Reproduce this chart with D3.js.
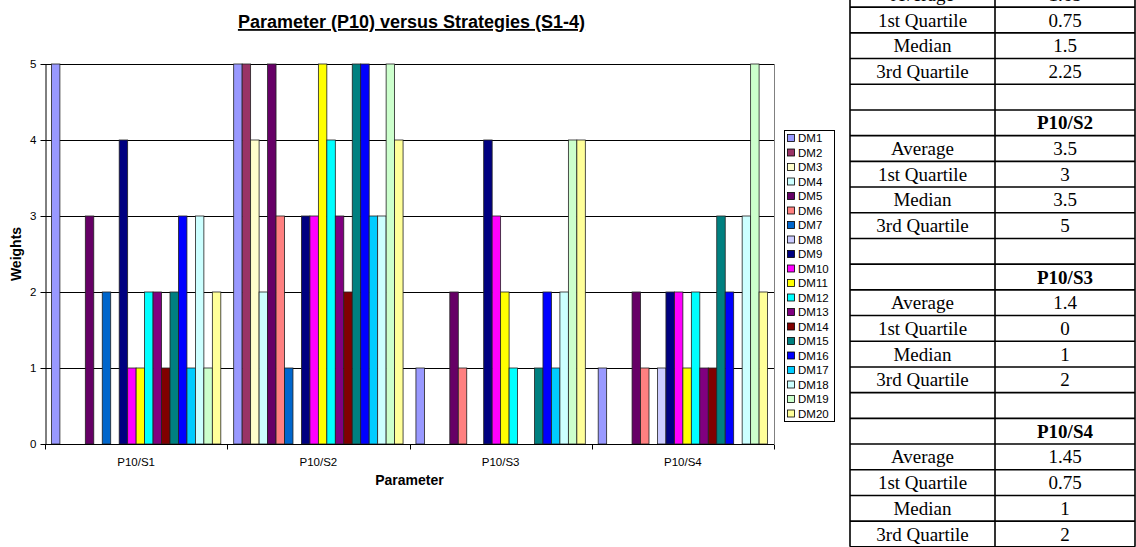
<!DOCTYPE html>
<html>
<head>
<meta charset="utf-8">
<script src="https://cdn.jsdelivr.net/npm/d3@7"></script>
<style>
  html, body { margin: 0; padding: 0; background: #fff; }
  svg { display: block; }
</style>
</head>
<body>
<svg id="chart" width="1136" height="547"></svg>
<script>
// ---------- data ----------
const categories = ["P10/S1", "P10/S2", "P10/S3", "P10/S4"];
const seriesNames = ["DM1","DM2","DM3","DM4","DM5","DM6","DM7","DM8","DM9","DM10",
                     "DM11","DM12","DM13","DM14","DM15","DM16","DM17","DM18","DM19","DM20"];
const weightsS1 = [5,0,0,0,3,0,2,0,4,1,1,2,2,1,2,3,1,3,1,2];
const weightsS2 = [5,5,4,2,5,3,1,0,3,3,5,4,3,2,5,5,3,3,5,4];
const weightsS3 = [1,0,0,0,2,1,0,0,4,3,2,1,0,0,1,2,1,2,4,4];
const weightsS4 = [1,0,0,0,2,1,0,1,2,2,1,2,1,1,3,2,0,3,5,2];
const seriesColors = ["#9999FF","#993366","#FFFFCC","#CCFFFF","#660066","#FF8080","#0066CC","#CCCCFF",
                      "#000080","#FF00FF","#FFFF00","#00FFFF","#800080","#800000","#008080","#0000FF",
                      "#00CCFF","#CCFFFF","#CCFFCC","#FFFF99"];
const yTicks = [0, 1, 2, 3, 4, 5];
const statLabels = ["Average", "1st Quartile", "Median", "3rd Quartile"];

const groups = [weightsS1, weightsS2, weightsS3, weightsS4];

// ---------- layout ----------
const svg = d3.select("#chart");
const plot = { left: 45, right: 774, top: 64, bottom: 444 };
const sans = "'Liberation Sans', Arial, sans-serif";
const serif = "'Liberation Serif', 'Times New Roman', serif";

const x0 = d3.scaleBand().domain(categories).range([plot.left, plot.right]).padding(0);
const x1 = d3.scaleBand().domain(seriesNames).range([0, x0.bandwidth()])
             .paddingInner(0).paddingOuter(0.76);
const y = d3.scaleLinear().domain([0, 5]).range([plot.bottom, plot.top]);
const color = d3.scaleOrdinal().domain(seriesNames).range(seriesColors);

// gridlines
svg.append("g")
  .selectAll("line").data(yTicks.filter(d => d > 0)).join("line")
  .attr("x1", plot.left).attr("x2", plot.right)
  .attr("y1", d => Math.round(y(d)) + 0.5).attr("y2", d => Math.round(y(d)) + 0.5)
  .attr("stroke", "#000").attr("stroke-width", 1);

// right border of plot area
svg.append("line")
  .attr("x1", plot.right + 0.5).attr("x2", plot.right + 0.5)
  .attr("y1", plot.top).attr("y2", plot.bottom)
  .attr("stroke", "#808080").attr("stroke-width", 1);

// bars
const barData = [];
categories.forEach((c, gi) => {
  groups[gi].forEach((v, si) => {
    barData.push({ cat: c, name: seriesNames[si], value: v });
  });
});
svg.append("g")
  .selectAll("rect").data(barData.filter(d => d.value > 0)).join("rect")
  .attr("x", d => x0(d.cat) + x1(d.name))
  .attr("y", d => y(d.value))
  .attr("width", x1.bandwidth())
  .attr("height", d => y(0) - y(d.value))
  .attr("fill", d => color(d.name))
  .attr("stroke", "#222").attr("stroke-width", 0.8);

// y axis
const yAxis = svg.append("g")
  .attr("transform", `translate(${plot.left + 0.5},0)`)
  .call(d3.axisLeft(y).tickValues(yTicks).tickSize(5).tickSizeOuter(0).tickFormat(d3.format("d")));
yAxis.select(".domain").attr("stroke", "#000");
yAxis.selectAll(".tick line").attr("stroke", "#000");
yAxis.selectAll("text").attr("font-family", sans).attr("font-size", 11.5).attr("fill", "#000").attr("dx", "-1");

// x axis
const xAxisG = svg.append("g").attr("transform", `translate(0,${plot.bottom + 0.5})`);
xAxisG.append("line").attr("x1", plot.left).attr("x2", plot.right)
  .attr("stroke", "#000");
const boundaries = categories.map(c => x0(c)).concat([x0(categories[categories.length - 1]) + x0.bandwidth()]);
xAxisG.selectAll("line.tk").data(boundaries).join("line").attr("class", "tk")
  .attr("x1", d => Math.round(d) + 0.5).attr("x2", d => Math.round(d) + 0.5)
  .attr("y1", 0).attr("y2", 5).attr("stroke", "#000");
xAxisG.selectAll("text").data(categories).join("text")
  .attr("x", d => x0(d) + x0.bandwidth() / 2).attr("y", 21)
  .attr("text-anchor", "middle").attr("font-family", sans).attr("font-size", 11.5)
  .text(d => d);

// titles
svg.append("text")
  .attr("x", (plot.left + plot.right) / 2 + 2).attr("y", 28)
  .attr("text-anchor", "middle").attr("font-family", sans).attr("font-size", 18)
  .attr("font-weight", "bold").attr("text-decoration", "underline")
  .text("Parameter (P10) versus Strategies (S1-4)");
svg.append("text")
  .attr("x", (plot.left + plot.right) / 2).attr("y", 485)
  .attr("text-anchor", "middle").attr("font-family", sans).attr("font-size", 14)
  .attr("font-weight", "bold").text("Parameter");
svg.append("text")
  .attr("transform", `translate(21,${(plot.top + plot.bottom) / 2}) rotate(-90)`)
  .attr("text-anchor", "middle").attr("font-family", sans).attr("font-size", 14)
  .attr("font-weight", "bold").text("Weights");

// legend
const leg = { x: 784, y: 130, w: 50, step: 14.5 };
svg.append("rect").attr("x", leg.x + 0.5).attr("y", leg.y + 0.5)
  .attr("width", leg.w).attr("height", seriesNames.length * leg.step + 1)
  .attr("fill", "#fff").attr("stroke", "#000");
const li = svg.append("g").selectAll("g").data(seriesNames).join("g")
  .attr("transform", (d, i) => `translate(${leg.x},${leg.y + 8 + i * leg.step})`);
li.append("rect").attr("x", 3.5).attr("y", -3.5).attr("width", 7).attr("height", 7)
  .attr("fill", d => color(d)).attr("stroke", "#000").attr("stroke-width", 0.8);
li.append("text").attr("x", 14).attr("y", 4).attr("font-family", sans).attr("font-size", 11.5)
  .text(d => d);

// stats table
function fmt(v) { return String(+v.toFixed(2)); }
const tableRows = [];
categories.forEach((c, gi) => {
  const sorted = groups[gi].slice().sort(d3.ascending);
  const stats = [d3.mean(sorted), d3.quantile(sorted, 0.25), d3.quantile(sorted, 0.5), d3.quantile(sorted, 0.75)];
  tableRows.push({ a: "", b: c, head: true });
  statLabels.forEach((l, k) => tableRows.push({ a: l, b: fmt(stats[k]), head: false }));
  if (gi < categories.length - 1) tableRows.push({ a: "", b: "", head: false });
});
const tb = { x0: 850, x1: 995, x2: 1135, top: -44.25, h: 25.7 };
const tg = svg.append("g");
tableRows.forEach((r, i) => {
  const yt = tb.top + i * tb.h;
  tg.append("line").attr("x1", tb.x0).attr("x2", tb.x2).attr("y1", yt).attr("y2", yt)
    .attr("stroke", "#000").attr("stroke-width", 1.6);
  tg.append("text").attr("x", (tb.x0 + tb.x1) / 2).attr("y", yt + tb.h / 2 + 6.5)
    .attr("text-anchor", "middle").attr("font-family", serif).attr("font-size", 19).text(r.a);
  tg.append("text").attr("x", (tb.x1 + tb.x2) / 2).attr("y", yt + tb.h / 2 + 6.5)
    .attr("text-anchor", "middle").attr("font-family", serif).attr("font-size", 19)
    .attr("font-weight", r.head ? "bold" : "normal").text(r.b);
});
const tBottom = tb.top + tableRows.length * tb.h;
tg.append("line").attr("x1", tb.x0).attr("x2", tb.x2).attr("y1", tBottom).attr("y2", tBottom)
  .attr("stroke", "#000").attr("stroke-width", 1.6);
[tb.x0, tb.x1, tb.x2].forEach(xv => {
  tg.append("line").attr("x1", xv).attr("x2", xv).attr("y1", tb.top).attr("y2", tBottom)
    .attr("stroke", "#000").attr("stroke-width", 1.6);
});
</script>
</body>
</html>
